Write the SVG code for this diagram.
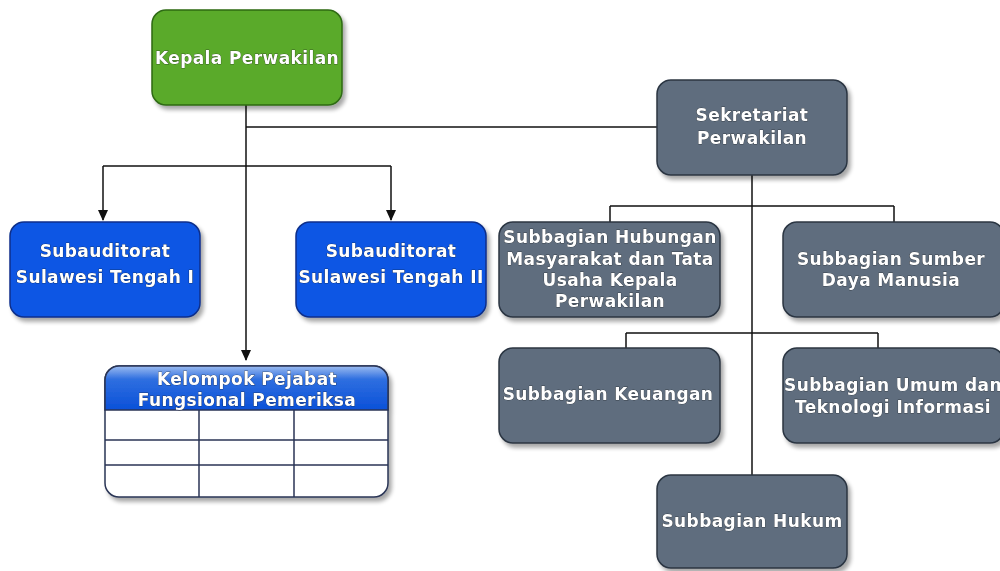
<svg xmlns="http://www.w3.org/2000/svg" width="1000" height="571" viewBox="0 0 1000 571">
<defs>
<filter id="sh" x="-10%" y="-10%" width="125%" height="130%">
<feGaussianBlur in="SourceAlpha" stdDeviation="2"/>
<feOffset dx="3" dy="4" result="b"/>
<feComponentTransfer><feFuncA type="linear" slope="0.35"/></feComponentTransfer>
<feMerge><feMergeNode/><feMergeNode in="SourceGraphic"/></feMerge>
</filter>
<linearGradient id="hdr" x1="0" y1="0" x2="0" y2="1">
<stop offset="0" stop-color="#9cbcf0"/>
<stop offset="0.3" stop-color="#2f6fe0"/>
<stop offset="1" stop-color="#0a50d8"/>
</linearGradient>
<marker id="arr" markerWidth="12" markerHeight="12" refX="10" refY="6" orient="auto" markerUnits="userSpaceOnUse">
<path d="M0,1 L11,6 L0,11 Z" fill="#111"/>
</marker>
</defs>
<style>
.green{fill:#5aaa2a;stroke:#2f6a14;stroke-width:1.5}
.blue{fill:#0a56e4;stroke:#0a2f8a;stroke-width:1.5}
.grey{fill:#5e6d7e;stroke:#2b3542;stroke-width:1.5}
.t{font-family:"DejaVu Sans",Verdana,sans-serif;font-weight:bold;font-size:17px;letter-spacing:0.4px;fill:#fff;text-anchor:middle;stroke:#1a1a1a;stroke-width:0.5;paint-order:stroke}
.ln{fill:none;stroke:#111;stroke-width:1.5}
.grid{fill:none;stroke:#2a3555;stroke-width:1.5}
</style>
<g id="connectors">
<path class="ln" d="M246,105 V360" marker-end="url(#arr)"/>
<path class="ln" d="M246,127 H657"/>
<path class="ln" d="M103,166 H391"/>
<path class="ln" d="M103,166 V220" marker-end="url(#arr)"/>
<path class="ln" d="M391,166 V220" marker-end="url(#arr)"/>
<path class="ln" d="M752,175 V475"/>
<path class="ln" d="M610,206 H894 M610,206 V222 M894,206 V222"/>
<path class="ln" d="M626,333 H878 M626,333 V348 M878,333 V348"/>
</g>
<g id="kepala" filter="url(#sh)">
<rect class="green" x="152" y="10" width="190" height="95" rx="14"/>
<text class="t" x="247" y="64">Kepala Perwakilan</text>
</g>
<g id="sub1" filter="url(#sh)">
<rect class="blue" x="10" y="222" width="190" height="95" rx="14"/>
<text class="t" x="105" y="257">Subauditorat</text>
<text class="t" x="105" y="283">Sulawesi Tengah I</text>
</g>
<g id="sub2" filter="url(#sh)">
<rect class="blue" x="296" y="222" width="190" height="95" rx="14"/>
<text class="t" x="391" y="257">Subauditorat</text>
<text class="t" x="391" y="283">Sulawesi Tengah II</text>
</g>
<g id="kelompok" filter="url(#sh)">
<rect x="105" y="366" width="283" height="131" rx="14" fill="#fff" stroke="#2a3555" stroke-width="1.5"/>
<path d="M105,410 V380 A14,14 0 0 1 119,366 H374 A14,14 0 0 1 388,380 V410 Z" fill="url(#hdr)" stroke="#2a3555" stroke-width="1.5"/>
<path class="grid" d="M105,440 H388 M105,465 H388 M199,410 V497 M294,410 V497"/>
<text class="t" x="247" y="385">Kelompok Pejabat</text>
<text class="t" x="247" y="406">Fungsional Pemeriksa</text>
</g>
<g id="sekretariat" filter="url(#sh)">
<rect class="grey" x="657" y="80" width="190" height="95" rx="14"/>
<text class="t" x="752" y="121">Sekretariat</text>
<text class="t" x="752" y="144">Perwakilan</text>
</g>
<g id="humas" filter="url(#sh)">
<rect class="grey" x="499" y="222" width="221" height="95" rx="14"/>
<text class="t" x="610" y="243">Subbagian Hubungan</text>
<text class="t" x="610" y="265">Masyarakat dan Tata</text>
<text class="t" x="610" y="286">Usaha Kepala</text>
<text class="t" x="610" y="307">Perwakilan</text>
</g>
<g id="sdm" filter="url(#sh)">
<rect class="grey" x="783" y="222" width="221" height="95" rx="14"/>
<text class="t" x="891" y="265">Subbagian Sumber</text>
<text class="t" x="891" y="286">Daya Manusia</text>
</g>
<g id="keuangan" filter="url(#sh)">
<rect class="grey" x="499" y="348" width="221" height="95" rx="14"/>
<text class="t" x="608" y="400">Subbagian Keuangan</text>
</g>
<g id="umum" filter="url(#sh)">
<rect class="grey" x="783" y="348" width="221" height="95" rx="14"/>
<text class="t" x="893" y="391">Subbagian Umum dan</text>
<text class="t" x="893" y="413">Teknologi Informasi</text>
</g>
<g id="hukum" filter="url(#sh)">
<rect class="grey" x="657" y="475" width="190" height="93" rx="14"/>
<text class="t" x="752" y="527">Subbagian Hukum</text>
</g>
</svg>
